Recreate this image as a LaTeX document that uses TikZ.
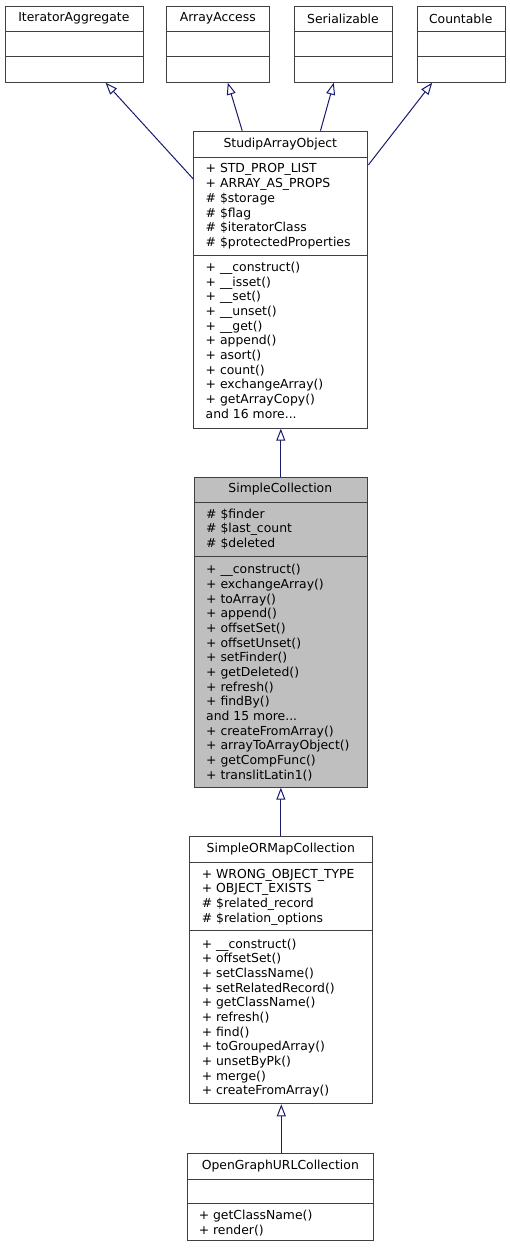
\documentclass[tikz,border=0pt]{standalone}
\usepackage{fontspec}
\setmainfont{DejaVu Sans}
\usetikzlibrary{arrows.meta}
\definecolor{edgecol}{HTML}{191970}
\definecolor{fillgray}{HTML}{BFBFBF}
\definecolor{bordercol}{HTML}{404040}
\newcommand{\fl}{\rule{0pt}{11pt}}
\begin{document}
\begin{tikzpicture}[x=1pt,y=-1pt,
  box/.style={draw=bordercol, line width=1pt, inner sep=0pt, anchor=north west, fill=white},
  grey/.style={fill=fillgray},
  sep/.style={draw=bordercol, line width=1pt},
  ttl/.style={font=\fontsize{12.4}{14.67}\selectfont, inner sep=0pt, anchor=center},
  mem/.style={font=\fontsize{12.4}{14.67}\selectfont, inner sep=0pt, align=left, anchor=north west},
  inh/.style={draw=edgecol, line width=1pt, -{Triangle[open,length=12pt,width=9pt,fill=white]}}]
\useasboundingbox (0,0) rectangle (510,1249);

% ---- top interfaces
\node[box, minimum width=137.7pt, minimum height=76pt] (ia) at (5,5.7) {};
\draw[sep] (5,31.7) -- (142.7,31.7) (5,56.7) -- (142.7,56.7);
\node[ttl] (iat) at (73.85,18.7) {IteratorAggregate};

\node[box, minimum width=103pt, minimum height=76pt] (aa) at (166.3,5.7) {};
\draw[sep] (166.3,31.7) -- (269.3,31.7) (166.3,56.7) -- (269.3,56.7);
\node[ttl] (aat) at (217.8,18.7) {ArrayAccess};

\node[box, minimum width=98.6pt, minimum height=76pt] (se) at (293.7,5.7) {};
\draw[sep] (293.7,31.7) -- (392.3,31.7) (293.7,56.7) -- (392.3,56.7);
\node[ttl] (set) at (343,18.7) {Serializable};

\node[box, minimum width=88pt, minimum height=76pt] (co) at (416.7,5.7) {};
\draw[sep] (416.7,31.7) -- (504.7,31.7) (416.7,56.7) -- (504.7,56.7);
\node[ttl] (cot) at (460.7,18.7) {Countable};

% ---- StudipArrayObject
\node[box, minimum width=174pt, minimum height=297pt] (sao) at (193.3,130.7) {};
\draw[sep] (193.3,157.3) -- (367.3,157.3) (193.3,255) -- (367.3,255);
\node[ttl] (saot) at (280.3,144) {StudipArrayObject};
\node[mem] (saoa) at (205.5,161.8) {\fl+ STD\_PROP\_LIST\\+ ARRAY\_AS\_PROPS\\\# \$storage\\\# \$flag\\\# \$iteratorClass\\\# \$protectedProperties};
\node[mem] (saom) at (205.5,260.2) {\fl+ \_\_construct()\\+ \_\_isset()\\+ \_\_set()\\+ \_\_unset()\\+ \_\_get()\\+ append()\\+ asort()\\+ count()\\+ exchangeArray()\\+ getArrayCopy()\\and 16 more...};

% ---- SimpleCollection
\node[box, grey, minimum width=172.7pt, minimum height=310pt] (sc) at (194,476.7) {};
\draw[sep] (194,502.3) -- (366.7,502.3) (194,556.7) -- (366.7,556.7);
\node[ttl] (sct) at (280.3,489.5) {SimpleCollection};
\node[mem] (sca) at (206,506.8) {\fl\# \$finder\\\# \$last\_count\\\# \$deleted};
\node[mem] (scm) at (206,562.5) {\fl+ \_\_construct()\\+ exchangeArray()\\+ toArray()\\+ append()\\+ offsetSet()\\+ offsetUnset()\\+ setFinder()\\+ getDeleted()\\+ refresh()\\+ findBy()\\and 15 more...\\+ createFromArray()\\+ arrayToArrayObject()\\+ getCompFunc()\\+ translitLatin1()};

% ---- SimpleORMapCollection
\node[box, minimum width=183pt, minimum height=267.3pt] (sorm) at (189.3,836) {};
\draw[sep] (189.3,862.3) -- (372.3,862.3) (189.3,930) -- (372.3,930);
\node[ttl] (sormt) at (280.8,849) {SimpleORMapCollection};
\node[mem] (sorma) at (201.6,866.8) {\fl+ WRONG\_OBJECT\_TYPE\\+ OBJECT\_EXISTS\\\# \$related\_record\\\# \$relation\_options};
\node[mem] (sormm) at (201.6,936.8) {\fl+ \_\_construct()\\+ offsetSet()\\+ setClassName()\\+ setRelatedRecord()\\+ getClassName()\\+ refresh()\\+ find()\\+ toGroupedArray()\\+ unsetByPk()\\+ merge()\\+ createFromArray()};

% ---- OpenGraphURLCollection
\node[box, minimum width=186pt, minimum height=87.3pt] (og) at (187.3,1152.7) {};
\draw[sep] (187.3,1179) -- (373.3,1179) (187.3,1203.3) -- (373.3,1203.3);
\node[ttl] (ogt) at (280.3,1166) {OpenGraphURLCollection};
\node[mem] (ogm) at (198.6,1208.5) {\fl+ getClassName()\\+ render()};

% ---- inheritance connectors
\draw[inh] ([yshift=-48.3pt]sao.north west) -- ([xshift=31.2pt]ia.south);
\draw[inh] ([xshift=-38.6pt]sao.north) -- ([xshift=9.5pt]aa.south);
\draw[inh] ([xshift=39.7pt]sao.north) -- ([xshift=-9.7pt]se.south);
\draw[inh] ([yshift=-34.3pt]sao.north east) -- ([xshift=-29pt]co.south);
\draw[inh] (sc.north -| sao.south) -- (sao.south);
\draw[inh] (sorm.north -| sc.south) -- (sc.south);
\draw[inh] (og.north -| sorm.south) -- (sorm.south);
\end{tikzpicture}
\end{document}
